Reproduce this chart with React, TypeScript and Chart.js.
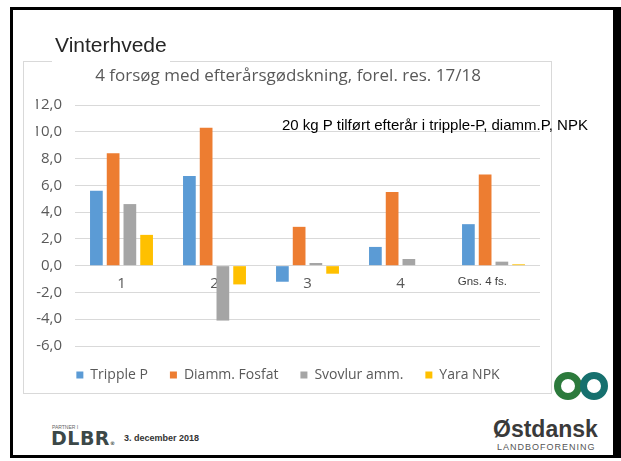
import React, { useEffect, useRef } from 'react';
import { Chart, registerables } from 'chart.js';

Chart.register(...registerables);

// ---- data ----
const categories = ['1', '2', '3', '4', 'Gns. 4 fs.'];
const tripleP = [5.6, 6.7, -1.2, 1.4, 3.1];
const diammFosfat = [8.4, 10.3, 2.9, 5.5, 6.8];
const svovlurAmm = [4.6, -4.1, 0.2, 0.5, 0.3];
const yaraNPK = [2.3, -1.4, -0.6, 0, 0.1];
const seriesNames = ['Tripple P', 'Diamm. Fosfat', 'Svovlur amm.', 'Yara NPK'];
const seriesColors = ['#5B9BD5', '#ED7D31', '#A5A5A5', '#FFC000'];
const yMin = -6;
const yMax = 12;
const yStep = 2;
const slideTitle = 'Vinterhvede';
const chartSubtitle = '4 forsøg med efterårsgødskning, forel. res. 17/18';
const annotation = '20 kg P tilført efterår i tripple-P, diamm.P, NPK';
const footerDate = '3. december 2018';

const seriesValues = [tripleP, diammFosfat, svovlurAmm, yaraNPK];

function ChartBox() {
  const ref = useRef<HTMLCanvasElement | null>(null);
  useEffect(() => {
    if (!ref.current) return;
    const chart = new Chart(ref.current, {
      type: 'bar',
      data: {
        labels: categories,
        datasets: seriesNames.map((name, i) => ({
          label: name,
          data: seriesValues[i],
          backgroundColor: seriesColors[i],
          borderWidth: 0,
          categoryPercentage: 0.72,
          barPercentage: 0.76,
        })),
      },
      options: {
        animation: false,
        responsive: false,
        layout: { padding: { left: 12, right: 11, top: 0, bottom: 1 } },
        plugins: {
          tooltip: { enabled: false },
          title: {
            display: true,
            text: chartSubtitle,
            color: '#595959',
            font: { family: 'Open Sans', size: 17, weight: 'normal' },
            padding: { top: 4, bottom: 18.6 },
          },
          legend: {
            position: 'bottom',
            labels: {
              boxWidth: 7,
              boxHeight: 7,
              padding: 22,
              color: '#595959',
              font: { family: 'Open Sans', size: 14 },
            },
          },
        },
        scales: {
          x: {
            position: { y: 0 } as any,
            grid: { display: false, drawTicks: false },
            border: { display: false },
            ticks: {
              padding: 9,
              autoSkip: false,
              maxRotation: 0,
              font: (ctx: any) =>
                ctx.index === 4
                  ? { family: 'Liberation Sans', size: 11.5 }
                  : { family: 'Open Sans', size: 15 },
              color: (ctx: any) => (ctx.index === 4 ? '#404040' : '#595959'),
              callback: function (this: any, value: any, index: number) {
                const l = this.getLabelForValue(value);
                return index === 4 ? l + '       ' : l;
              },
            },
          },
          y: {
            min: yMin,
            max: yMax,
            border: { display: false },
            grid: { color: '#D9D9D9', drawTicks: false, lineWidth: 1 },
            ticks: {
              stepSize: yStep,
              padding: 13,
              color: '#595959',
              font: { family: 'Open Sans', size: 15 },
              callback: (v: any) => Number(v).toFixed(1).replace('.', ','),
            },
            afterFit: (s: any) => {
              s.width = 39;
            },
          },
        },
      },
    });
    return () => chart.destroy();
  }, []);
  return <canvas ref={ref} width={527} height={331} style={{ display: 'block', width: 527, height: 331 }} />;
}

const abs = (s: React.CSSProperties): React.CSSProperties => ({ position: 'absolute', ...s });

export default function App() {
  return (
    <div style={{ position: 'fixed', left: 0, top: 0, width: 621, height: 461, background: '#fff', overflow: 'hidden' }}>
      {/* black slide frame */}
      <div
        style={abs({
          left: 10,
          top: 7,
          width: 611,
          height: 451,
          boxSizing: 'border-box',
          borderTop: '3px solid #000',
          borderLeft: '3px solid #000',
          borderRight: '8px solid #000',
          borderBottom: '3px solid #000',
        })}
      />
      {/* chart frame */}
      <div
        style={abs({
          left: 23,
          top: 61,
          width: 529,
          height: 333,
          boxSizing: 'border-box',
          border: '1px solid #D9D9D9',
        })}
      >
        <ChartBox />
      </div>
      {/* slide title */}
      <div
        style={abs({
          left: 52,
          top: 34,
          padding: '0 3px 8px 3px',
          background: '#fff',
          fontFamily: 'Liberation Sans',
          fontSize: 21,
          lineHeight: '21px',
          color: '#262626',
          whiteSpace: 'nowrap',
        })}
      >
        {slideTitle}
      </div>
      {/* annotation */}
      <div
        style={abs({
          left: 282,
          top: 116,
          fontFamily: 'Liberation Sans',
          fontSize: 15,
          lineHeight: '17px',
          color: '#000',
          whiteSpace: 'nowrap',
        })}
      >
        {annotation}
      </div>
      {/* rings logo */}
      <div style={abs({ left: 554, top: 372, width: 28, height: 28, boxSizing: 'border-box', borderRadius: '50%', border: '7px solid #2c7a3c' })} />
      <div style={abs({ left: 580, top: 372, width: 28, height: 28, boxSizing: 'border-box', borderRadius: '50%', border: '7px solid #16706e' })} />
      {/* footer left */}
      <div style={abs({ left: 52, top: 424, fontFamily: 'Liberation Sans', fontSize: 5, lineHeight: '6px', color: '#666', whiteSpace: 'nowrap' })}>
        PARTNER I
      </div>
      <div
        style={abs({
          left: 51,
          top: 428,
          fontFamily: 'DejaVu Sans',
          fontWeight: 'bold',
          fontSize: 19,
          lineHeight: '20px',
          letterSpacing: 0.5,
          color: '#3c4848',
          whiteSpace: 'nowrap',
        })}
      >
        DLBR<span style={{ fontSize: 5 }}>®</span>
      </div>
      <div style={abs({ left: 124, top: 433, fontFamily: 'Liberation Sans', fontWeight: 'bold', fontSize: 9, lineHeight: '10px', color: '#333', whiteSpace: 'nowrap' })}>
        {footerDate}
      </div>
      {/* footer right */}
      <div style={abs({ left: 493, top: 416, fontFamily: 'Liberation Sans', fontWeight: 'bold', fontSize: 23, lineHeight: '26px', color: '#3a3a3a', whiteSpace: 'nowrap' })}>
        Østdansk
      </div>
      <div style={abs({ left: 497, top: 442, fontFamily: 'Liberation Sans', fontSize: 9, lineHeight: '10px', letterSpacing: 1, color: '#555', whiteSpace: 'nowrap' })}>
        LANDBOFORENING
      </div>
    </div>
  );
}
